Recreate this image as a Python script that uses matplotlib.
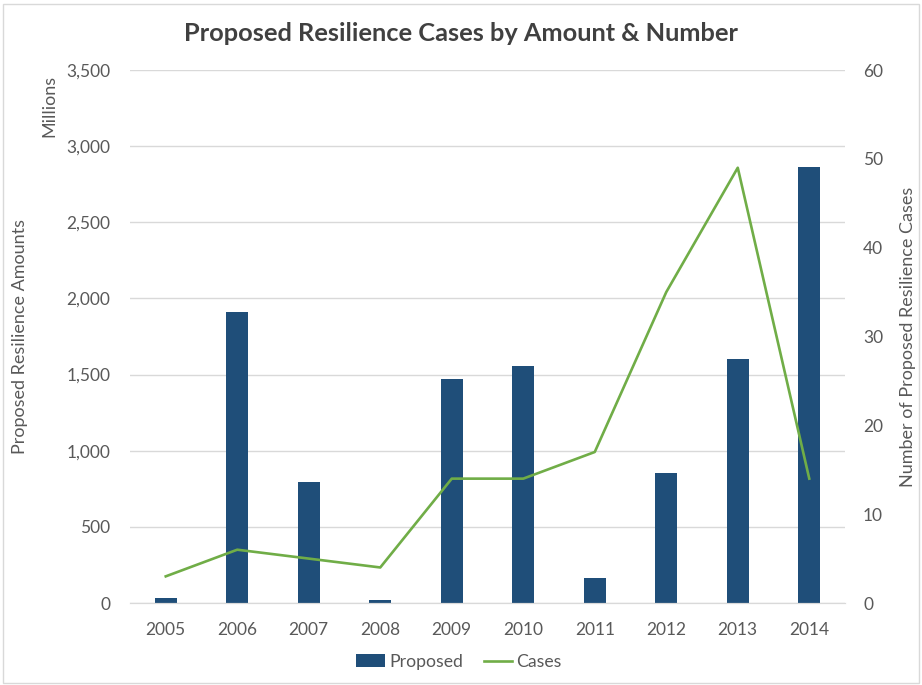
import matplotlib.pyplot as plt
import numpy as np
from matplotlib.patches import Patch, Rectangle
from matplotlib.lines import Line2D

plt.rcParams["font.family"] = ["Lato", "DejaVu Sans"]

years    = ["2005", "2006", "2007", "2008", "2009", "2010", "2011", "2012", "2013", "2014"]
proposed = [30, 1910, 795, 20, 1470, 1555, 165, 855, 1605, 2860]   # millions
cases    = [3, 6, 5, 4, 14, 14, 17, 35, 49, 14]

BAR_COLOR  = "#1F4E79"
LINE_COLOR = "#70AD47"
TEXT_COLOR = "#595959"
GRID_COLOR = "#D9D9D9"

fig = plt.figure(figsize=(9.22, 6.85), dpi=100)
ax = fig.add_axes([0.141, 0.1197, 0.7755, 0.7781])
ax2 = ax.twinx()

x = np.arange(len(years))
ax.bar(x, proposed, width=0.31, color=BAR_COLOR, zorder=2)
ax2.plot(x, cases, color=LINE_COLOR, linewidth=1.9, zorder=3)

ax.set_xlim(-0.5, len(years) - 0.5)
ax.set_ylim(0, 3500)
ax.set_yticks(np.arange(0, 3501, 500))
ax.set_yticklabels([f"{v:,}" for v in range(0, 3501, 500)])
ax2.set_ylim(0, 60)
ax2.set_yticks(np.arange(0, 61, 10))

ax.set_xticks(x)
ax.set_xticklabels(years)
ax.grid(axis="y", color=GRID_COLOR, linewidth=1, zorder=0)
ax.set_axisbelow(True)

for a in (ax, ax2):
    for side in ("top", "left", "right"):
        a.spines[side].set_visible(False)
    a.spines["bottom"].set_color(GRID_COLOR)
    a.tick_params(length=0, labelsize=12.5, colors=TEXT_COLOR)
ax.tick_params(axis="y", pad=14)
ax.tick_params(axis="x", pad=14)
ax2.tick_params(axis="y", pad=13)

ax.set_ylabel("Proposed Resilience Amounts", fontsize=13, color=TEXT_COLOR, labelpad=0)
ax.yaxis.set_label_coords(-0.142, 0.5)
ax2.set_ylabel("Number of Proposed Resilience Cases", fontsize=13, color=TEXT_COLOR)
ax2.yaxis.set_label_coords(1.077, 0.5)
fig.text(0.054, 0.845, "Millions", rotation=90, fontsize=13, color=TEXT_COLOR,
         ha="center", va="center")

fig.text(0.5, 0.951, "Proposed Resilience Cases by Amount & Number", fontsize=18.3,
         fontweight="bold", color="#404040", ha="center", va="center")

handles = [Patch(facecolor=BAR_COLOR, label="Proposed"),
           Line2D([0], [0], color=LINE_COLOR, linewidth=1.9, label="Cases")]
fig.legend(handles=handles, loc="center", bbox_to_anchor=(0.498, 0.034), ncol=2,
           frameon=False, fontsize=12.7, labelcolor=TEXT_COLOR, handlelength=1.6,
           handletextpad=0.25, columnspacing=1.2)

# thin frame around the whole chart
fig.patches.append(Rectangle((0.003, 0.003), 0.994, 0.991, transform=fig.transFigure,
                             fill=False, edgecolor="#D9D9D9", linewidth=1))

fig.savefig("out.png", dpi=100)
